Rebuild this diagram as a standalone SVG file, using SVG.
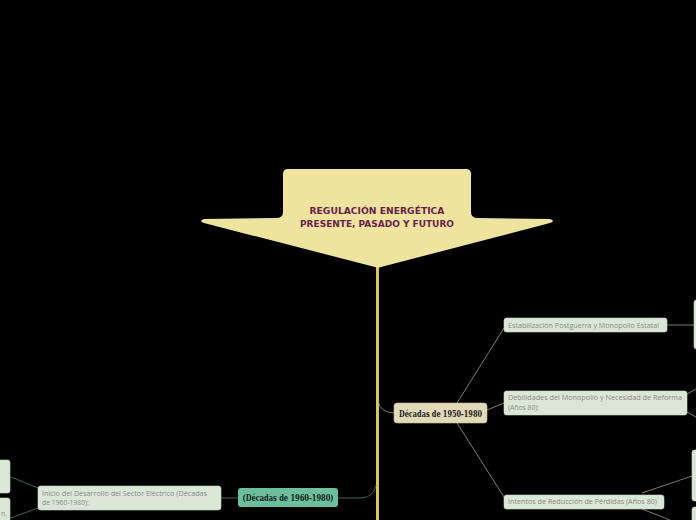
<svg xmlns="http://www.w3.org/2000/svg" width="696" height="520" viewBox="0 0 696 520">
<style>
.leaf{fill:#dbe7d6;stroke:#c9d8c4;stroke-width:0.6}
.lt{font-family:"Open Sans","Noto Sans",sans-serif;font-size:6.8px;fill:#8a8a84}
.c1{fill:none;stroke:#8e8872;stroke-width:0.9}
.c2{fill:none;stroke:#2f6b57;stroke-width:1}
.hd{font-family:"DejaVu Serif Condensed","DejaVu Serif",serif;font-weight:bold;font-size:9px}
</style>
<rect width="696" height="520" fill="#000"/>
<g id="connectors">
<line x1="377.5" y1="266" x2="377.5" y2="520" stroke="#d8c65c" stroke-width="3"/>
<path class="c1" d="M378.5 402 Q380 412 394 413"/>
<path class="c2" d="M376 485 Q374 497 362 498 L338 498" stroke="#52ad8d"/>
<line class="c1" x1="457" y1="403" x2="504" y2="328"/>
<line class="c1" x1="487" y1="410" x2="504" y2="403"/>
<line class="c1" x1="457" y1="423" x2="504" y2="497"/>
<line class="c1" x1="667" y1="325" x2="694" y2="325"/>
<line class="c1" x1="687" y1="394" x2="696" y2="389"/>
<line class="c1" x1="687" y1="412" x2="696" y2="417"/>
<line class="c1" x1="642" y1="493" x2="692" y2="476"/>
<line class="c1" x1="642" y1="509" x2="670" y2="520"/>
<line class="c2" x1="221" y1="498" x2="238" y2="498"/>
<line class="c2" x1="38" y1="488" x2="11" y2="477"/>
<line class="c2" x1="38" y1="508" x2="11" y2="518"/>
</g>
<g id="root">
<path d="M288 169 L466 169 Q471 169 471 174 L471 212 Q471 218 478 218 L550 219 Q556 221 550 223 L381 267 Q378 268 375 267 L204 223 Q198 221 204 219 L276 218 Q283 218 283 212 L283 174 Q283 169 288 169 Z" fill="#eee4a0"/>
<text x="377" y="214" text-anchor="middle" font-family="DejaVu Sans Condensed, DejaVu Sans, sans-serif" font-weight="bold" font-size="9.5" fill="#6a1f4a" textLength="135" lengthAdjust="spacingAndGlyphs">REGULACIÓN ENERGÉTICA</text>
<text x="377" y="227" text-anchor="middle" font-family="DejaVu Sans Condensed, DejaVu Sans, sans-serif" font-weight="bold" font-size="9.5" fill="#6a1f4a" textLength="154" lengthAdjust="spacingAndGlyphs">PRESENTE, PASADO Y FUTURO</text>
</g>
<g id="n1950">
<rect x="394" y="403" width="93" height="20" rx="3" fill="#e2d9b9" stroke="#cbbf98" stroke-width="0.6"/>
<text class="hd" x="440.5" y="416.5" text-anchor="middle" fill="#1a1a1a" textLength="83" lengthAdjust="spacingAndGlyphs">Décadas de 1950-1980</text>
</g>
<g id="n1960">
<rect x="238" y="488" width="100" height="19" rx="3" fill="#6dbf9b"/>
<text class="hd" x="288" y="501" text-anchor="middle" fill="#10201a" textLength="91" lengthAdjust="spacingAndGlyphs">(Décadas de 1960-1980)</text>
</g>
<g id="estab">
<rect class="leaf" x="504" y="318" width="163" height="14" rx="2.5"/>
<text class="lt" x="508" y="328" textLength="151" lengthAdjust="spacingAndGlyphs">Estabilización Postguerra y Monopolio Estatal</text>
</g>
<g id="debil">
<rect class="leaf" x="504" y="391" width="183" height="24" rx="2.5"/>
<text class="lt" x="508" y="400" textLength="174" lengthAdjust="spacingAndGlyphs">Debilidades del Monopolio y Necesidad de Reforma</text>
<text class="lt" x="508" y="409.5">(Años 80):</text>
</g>
<g id="intentos">
<rect class="leaf" x="504" y="495" width="160" height="14" rx="2.5"/>
<text class="lt" x="508" y="504" textLength="149" lengthAdjust="spacingAndGlyphs">Intentos de Reducción de Pérdidas (Años 80)</text>
</g>
<g id="inicio">
<rect class="leaf" x="38" y="486" width="183" height="24" rx="2.5"/>
<text class="lt" x="42" y="495.5" textLength="165" lengthAdjust="spacingAndGlyphs">Inicio del Desarrollo del Sector Eléctrico (Décadas</text>
<text class="lt" x="42" y="505">de 1960-1980):</text>
</g>
<g id="r1"><rect class="leaf" x="694" y="300" width="10" height="49" rx="2.5"/></g>
<g id="r2"><rect class="leaf" x="692" y="450" width="12" height="51" rx="2.5"/></g>
<g id="r3"><rect class="leaf" x="692" y="507" width="12" height="20" rx="2.5"/></g>
<g id="l1"><rect class="leaf" x="-5" y="460" width="15" height="33" rx="2.5"/></g>
<g id="l2">
<rect class="leaf" x="-5" y="498" width="15" height="30" rx="2.5"/>
<text class="lt" x="7" y="516" text-anchor="end">n,</text>
</g>
</svg>
